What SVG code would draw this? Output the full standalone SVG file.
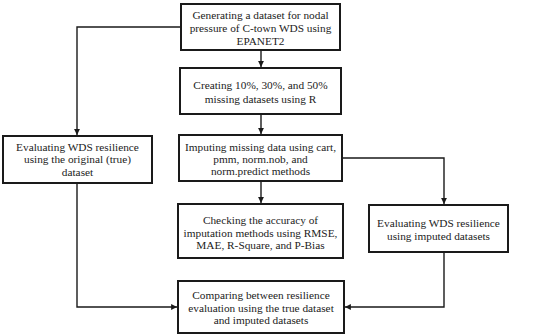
<svg xmlns="http://www.w3.org/2000/svg" width="550" height="336" viewBox="0 0 550 336">
<style>
.box{fill:#fff;stroke:#1a1a1a;stroke-width:2}
.t{font-family:"Liberation Serif","Times New Roman",serif;font-size:11.3px;fill:#222;text-anchor:middle}
.c{fill:none;stroke:#1a1a1a;stroke-width:1.4}
</style>
<defs>
<marker id="ah" viewBox="0 0 10 10" refX="10" refY="5" markerWidth="4.2" markerHeight="4.2" orient="auto" markerUnits="strokeWidth">
<path d="M0,0 L10,5 L0,10 Z" fill="#1a1a1a"/>
</marker>
</defs>
<rect width="550" height="336" fill="#fff"/>
<g id="connectors">
<path class="c" d="M261,50 V67" marker-end="url(#ah)"/>
<path class="c" d="M261,114 V134" marker-end="url(#ah)"/>
<path class="c" d="M181,27 H77 V135" marker-end="url(#ah)"/>
<path class="c" d="M342,158 H444 V204" marker-end="url(#ah)"/>
<path class="c" d="M261,181 V203" marker-end="url(#ah)"/>
<path class="c" d="M77,183 V307 H177" marker-end="url(#ah)"/>
<path class="c" d="M444,252 V307 H345" marker-end="url(#ah)"/>
</g>
<g id="n1">
<rect class="box" x="181" y="4" width="159" height="46"/>
<text class="t" x="260.5" y="19">Generating a dataset for nodal</text>
<text class="t" x="260.5" y="32">pressure of C-town WDS using</text>
<text class="t" x="260.5" y="45">EPANET2</text>
</g>
<g id="n2">
<rect class="box" x="180" y="68" width="161" height="46"/>
<text class="t" x="260.5" y="89">Creating 10%, 30%, and 50%</text>
<text class="t" x="260.5" y="103">missing datasets using R</text>
</g>
<g id="n3">
<rect class="box" x="179" y="135" width="163" height="46"/>
<text class="t" x="260.5" y="151">Imputing missing data using cart,</text>
<text class="t" x="260.5" y="163">pmm, norm.nob, and</text>
<text class="t" x="260.5" y="175">norm.predict methods</text>
</g>
<g id="n4">
<rect class="box" x="3" y="136" width="149" height="47"/>
<text class="t" x="77.5" y="151">Evaluating WDS resilience</text>
<text class="t" x="77.5" y="163">using the original (true)</text>
<text class="t" x="77.5" y="176">dataset</text>
</g>
<g id="n5">
<rect class="box" x="178" y="204" width="165" height="54"/>
<text class="t" x="260.5" y="224">Checking the accuracy of</text>
<text class="t" x="260.5" y="237">imputation methods using RMSE,</text>
<text class="t" x="260.5" y="249">MAE, R-Square, and P-Bias</text>
</g>
<g id="n6">
<rect class="box" x="369" y="205" width="139" height="47"/>
<text class="t" x="438.5" y="227">Evaluating WDS resilience</text>
<text class="t" x="438.5" y="240">using imputed datasets</text>
</g>
<g id="n7">
<rect class="box" x="178" y="281" width="166" height="52"/>
<text class="t" x="261" y="299">Comparing between resilience</text>
<text class="t" x="261" y="312">evaluation using the true dataset</text>
<text class="t" x="261" y="324">and imputed datasets</text>
</g>
</svg>
